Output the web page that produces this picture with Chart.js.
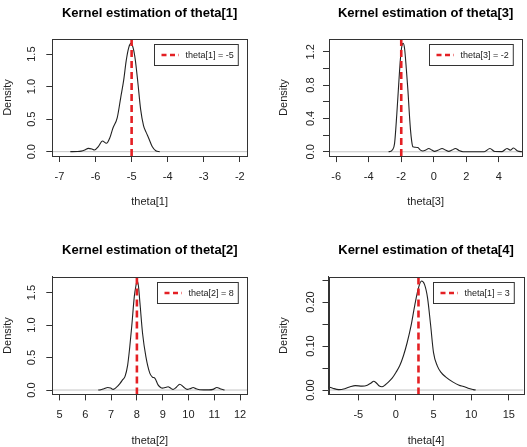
<!DOCTYPE html>
<html>
<head>
<meta charset="utf-8">
<script src="https://cdn.jsdelivr.net/npm/chart.js@4/dist/chart.umd.min.js"></script>
<style>
html, body { margin: 0; padding: 0; background: #fff; width: 527px; height: 447px; overflow: hidden; }
canvas { position: absolute; }
</style>
</head>
<body>
<canvas id="theta1" width="264" height="224" style="left:0;top:0"></canvas>
<canvas id="theta3" width="263" height="224" style="left:264px;top:0"></canvas>
<canvas id="theta2" width="264" height="224" style="left:0;top:224px"></canvas>
<canvas id="theta4" width="263" height="224" style="left:264px;top:224px"></canvas>
<script>
// density curves
const theta1X = [-6.7, -6.5, -6.4, -6.3, -6.2, -6.1, -6.03, -5.92, -5.81, -5.7, -5.6, -5.52, -5.4, -5.3, -5.22, -5.15, -5.08, -5.02, -4.96, -4.9, -4.83, -4.75, -4.67, -4.6, -4.52, -4.43, -4.33, -4.22];
const theta1Y = [0, 0.002, 0.008, 0.025, 0.05, 0.04, 0.025, 0.08, 0.165, 0.13, 0.22, 0.36, 0.52, 0.84, 1.1, 1.4, 1.6, 1.665, 1.6, 1.42, 1.08, 0.65, 0.4, 0.3, 0.2, 0.08, 0.015, 0];

const theta3X = [-2.78, -2.65, -2.55, -2.41, -2.27, -2.14, -2.04, -1.95, -1.88, -1.79, -1.69, -1.59, -1.5, -1.43, -1.36, -1.29, -1.15, -0.98, -0.82, -0.67, -0.5, -0.31, -0.12, 0.04, 0.28, 0.51, 0.72, 0.92, 1.12, 1.33, 1.55, 1.8, 3.1, 3.45, 3.75, 4.2, 4.5, 4.7, 4.9, 5.15, 5.44];
const theta3Y = [0, 0.005, 0.02, 0.1, 0.46, 0.86, 1.14, 1.28, 1.3, 1.23, 1.0, 0.74, 0.45, 0.26, 0.13, 0.06, 0.055, 0.05, 0.02, 0.01, 0.02, 0.04, 0.02, 0.005, 0.02, 0.04, 0.02, 0.005, 0.02, 0.04, 0.015, 0.001, 0.001, 0.04, 0.003, 0.002, 0.04, 0.02, 0.045, 0.01, 0];

const theta2X = [6.5, 6.6, 6.72, 6.87, 6.98, 7.08, 7.2, 7.34, 7.45, 7.54, 7.64, 7.72, 7.8, 7.9, 7.96, 8.01, 8.06, 8.12, 8.22, 8.35, 8.5, 8.6, 8.7, 8.82, 8.92, 8.99, 9.1, 9.21, 9.3, 9.4, 9.52, 9.66, 9.8, 9.95, 10.06, 10.18, 10.3, 10.44, 10.8, 10.95, 11.1, 11.25, 11.4];
const theta2Y = [0, 0.005, 0.02, 0.04, 0.03, 0.01, 0.04, 0.1, 0.16, 0.21, 0.38, 0.65, 0.98, 1.44, 1.6, 1.676, 1.6, 1.33, 0.87, 0.51, 0.26, 0.2, 0.18, 0.08, 0.04, 0.03, 0.04, 0.05, 0.03, 0.01, 0.04, 0.09, 0.05, 0.01, 0.02, 0.04, 0.02, 0.005, 0.002, 0.01, 0.04, 0.015, 0];

const theta4X = [-9.0, -8.4, -7.6, -6.8, -6.0, -5.4, -4.5, -3.8, -3.3, -2.96, -2.6, -2.2, -1.86, -1.4, -1.0, -0.5, 0, 0.5, 1.0, 1.5, 2.0, 2.5, 3.0, 3.4, 3.8, 4.2, 4.6, 5.0, 5.5, 6.0, 6.6, 7.6, 8.4, 9.0, 9.6, 10.3, 10.6];
const theta4Y = [0.0075, 0.004, 0.001, 0.003, 0.008, 0.01, 0.009, 0.011, 0.016, 0.02, 0.016, 0.009, 0.0075, 0.012, 0.018, 0.027, 0.04, 0.055, 0.078, 0.108, 0.145, 0.192, 0.232, 0.2476, 0.24, 0.21, 0.15, 0.085, 0.055, 0.04, 0.03, 0.018, 0.011, 0.008, 0.004, 0.001, 0];

// true values (dashed red lines) and legend labels
const trueValues = [-5, -2, 8, 3];
const legendLabels = ['theta[1] = -5', 'theta[3] = -2', 'theta[2] = 8', 'theta[1] = 3'];

// tick positions and labels
const xTicks1 = [-7, -6, -5, -4, -3, -2];
const xLabels1 = ['-7', '-6', '-5', '-4', '-3', '-2'];
const yTicks1 = [0, 0.5, 1, 1.5];
const yLabels1 = ['0.0', '0.5', '1.0', '1.5'];

const xTicks3 = [-6, -4, -2, 0, 2, 4];
const xLabels3 = ['-6', '-4', '-2', '0', '2', '4'];
const yTicks3 = [0, 0.2, 0.4, 0.6, 0.8, 1.0, 1.2];
const yLabels3 = ['0.0', '', '0.4', '', '0.8', '', '1.2'];

const xTicks2 = [5, 6, 7, 8, 9, 10, 11, 12];
const xLabels2 = ['5', '6', '7', '8', '9', '10', '11', '12'];
const yTicks2 = [0, 0.5, 1, 1.5];
const yLabels2 = ['0.0', '0.5', '1.0', '1.5'];

const xTicks4 = [-5, 0, 5, 10, 15];
const xLabels4 = ['-5', '0', '5', '10', '15'];
const yTicks4 = [0, 0.05, 0.1, 0.15, 0.2, 0.25];
const yLabels4 = ['0.00', '', '0.10', '', '0.20', ''];

const FONT = '"Liberation Sans", Arial, Helvetica, sans-serif';
const RED = 'rgb(228, 32, 36)';
const INK = '#222';

const boxPlugin = {
    id: 'boxPlugin',
    afterDraw(chart) {
        const a = chart.chartArea;
        const ctx = chart.ctx;
        ctx.save();
        ctx.strokeStyle = '#333';
        ctx.lineWidth = 1;
        ctx.strokeRect(Math.round(a.left) + 0.5, Math.round(a.top) + 0.5,
            Math.round(a.right) - Math.round(a.left), Math.round(a.bottom) - Math.round(a.top));
        ctx.restore();
    }
};

const legendPlugin = {
    id: 'legendPlugin',
    afterDatasetsDraw(chart, args, opts) {
        const a = chart.chartArea;
        const ctx = chart.ctx;
        ctx.save();
        ctx.font = '9px ' + FONT;
        const tw = ctx.measureText(opts.text).width;
        const w = 31 + tw + 4.5;
        const h = 21;
        const x = Math.round(a.right - 9.3 - w) + 0.5;
        const y = Math.round(a.top + 5.3) + 0.5;
        ctx.fillStyle = '#fff';
        ctx.fillRect(x, y, w, h);
        ctx.strokeStyle = '#333';
        ctx.lineWidth = 1;
        ctx.strokeRect(x, y, w, h);
        ctx.strokeStyle = RED;
        ctx.lineWidth = 2.5;
        ctx.setLineDash([5, 3.5]);
        ctx.beginPath();
        ctx.moveTo(x + 7, y + h / 2);
        ctx.lineTo(x + 24.5, y + h / 2);
        ctx.stroke();
        ctx.setLineDash([]);
        ctx.fillStyle = INK;
        ctx.textBaseline = 'middle';
        ctx.fillText(opts.text, x + 31, y + h / 2 + 0.5);
        ctx.restore();
    }
};

function makePanel(id, p) {
    const canvas = document.getElementById(id);
    const cw = canvas.width, ch = canvas.height;

    // measure widest y label so rotated labels sit a fixed distance from the box
    const mctx = canvas.getContext('2d');
    mctx.font = '11px ' + FONT;
    let widest = 0;
    p.yLabels.forEach(function(l) { widest = Math.max(widest, mctx.measureText(l).width); });

    const xH = p.xTitleY - p.area.b + 6.6;
    const titleLH = 13 * 1.2;

    const points = p.xs.map(function(x, i) { return { x: x, y: p.ys[i] }; });

    new Chart(canvas, {
        type: 'line',
        data: {
            datasets: [
                {
                    data: [{ x: p.trueValue, y: p.yMin }, { x: p.trueValue, y: p.yMax }],
                    borderColor: RED, borderWidth: 2.6, borderDash: [7, 4],
                    pointRadius: 0, order: 0
                },
                {
                    data: points,
                    borderColor: INK, borderWidth: 1.1,
                    pointRadius: 0, cubicInterpolationMode: 'monotone', order: 1
                },
                {
                    data: [{ x: p.xMin, y: 0 }, { x: p.xMax, y: 0 }],
                    borderColor: '#c4c4c4', borderWidth: 1,
                    pointRadius: 0, order: 2
                }
            ]
        },
        options: {
            responsive: false,
            animation: false,
            events: [],
            layout: {
                padding: { left: 0, top: 0, right: cw - p.area.r, bottom: ch - p.area.b - xH }
            },
            plugins: {
                legend: { display: false },
                tooltip: { enabled: false },
                title: {
                    display: true,
                    text: p.title,
                    fullSize: false,
                    color: '#000',
                    font: { family: FONT, size: 13, weight: 'bold' },
                    padding: { top: p.titleY - titleLH / 2, bottom: p.area.t - p.titleY - titleLH / 2 }
                },
                legendPlugin: { text: p.legend }
            },
            scales: {
                x: {
                    type: 'linear',
                    min: p.xMin, max: p.xMax,
                    afterBuildTicks: function(scale) {
                        scale.ticks = p.xTicks.map(function(v) { return { value: v }; });
                    },
                    afterFit: function(scale) { scale.height = xH; },
                    ticks: {
                        autoSkip: false, maxRotation: 0, padding: 7.9, color: INK,
                        font: { family: FONT, size: 11 },
                        callback: function(v, i) { return p.xLabels[i]; }
                    },
                    grid: { drawOnChartArea: false, drawTicks: true, tickLength: 6, color: '#333' },
                    border: { display: true, color: '#333' },
                    title: {
                        display: true, text: p.xTitle, color: INK,
                        font: { family: FONT, size: 11 }, padding: 0
                    }
                },
                y: {
                    type: 'linear',
                    min: p.yMin, max: p.yMax,
                    afterBuildTicks: function(scale) {
                        scale.ticks = p.yTicks.map(function(v) { return { value: v }; });
                    },
                    afterFit: function(scale) { scale.width = p.area.l; },
                    ticks: {
                        autoSkip: false, minRotation: 90, maxRotation: 90, crossAlign: 'center',
                        padding: p.yLabOff - 6 - widest / 2, color: INK,
                        font: { family: FONT, size: 11 },
                        callback: function(v, i) { return p.yLabels[i]; }
                    },
                    grid: { drawOnChartArea: false, drawTicks: true, tickLength: 6, color: '#333' },
                    border: { display: true, color: '#333' },
                    title: {
                        display: true, text: 'Density', color: INK,
                        font: { family: FONT, size: 11 },
                        padding: { top: p.densX - 6.6, bottom: 0 }
                    }
                }
            }
        },
        plugins: [boxPlugin, legendPlugin]
    });
}

makePanel('theta1', {
    title: 'Kernel estimation of theta[1]', xTitle: 'theta[1]', legend: legendLabels[0],
    xs: theta1X, ys: theta1Y, trueValue: trueValues[0],
    xMin: -7.2, xMax: -1.8, yMin: -0.0667, yMax: 1.733,
    xTicks: xTicks1, xLabels: xLabels1, yTicks: yTicks1, yLabels: yLabels1,
    area: { l: 52.3, t: 39, r: 247, b: 156 }, titleY: 13.3, densX: 8.3, xTitleY: 202.3, yLabOff: 20
});

makePanel('theta3', {
    title: 'Kernel estimation of theta[3]', xTitle: 'theta[3]', legend: legendLabels[1],
    xs: theta3X, ys: theta3Y, trueValue: trueValues[1],
    xMin: -6.44, xMax: 5.44, yMin: -0.052, yMax: 1.353,
    xTicks: xTicks3, xLabels: xLabels3, yTicks: yTicks3, yLabels: yLabels3,
    area: { l: 65, t: 39, r: 258.3, b: 156.1 }, titleY: 13.3, densX: 20, xTitleY: 202.3, yLabOff: 18.3
});

makePanel('theta2', {
    title: 'Kernel estimation of theta[2]', xTitle: 'theta[2]', legend: legendLabels[2],
    xs: theta2X, ys: theta2Y, trueValue: trueValues[2],
    xMin: 4.72, xMax: 12.28, yMin: -0.067, yMax: 1.743,
    xTicks: xTicks2, xLabels: xLabels2, yTicks: yTicks2, yLabels: yLabels2,
    area: { l: 52.3, t: 52.7, r: 247.3, b: 170.4 }, titleY: 26.7, densX: 8.3, xTitleY: 216.7, yLabOff: 20.3
});

makePanel('theta4', {
    title: 'Kernel estimation of theta[4]', xTitle: 'theta[4]', legend: legendLabels[3],
    xs: theta4X, ys: theta4Y, trueValue: trueValues[3],
    xMin: -8.96, xMax: 16.96, yMin: -0.0099, yMax: 0.2575,
    xTicks: xTicks4, xLabels: xLabels4, yTicks: yTicks4, yLabels: yLabels4,
    area: { l: 64.5, t: 52.7, r: 259.5, b: 170.4 }, titleY: 26.7, densX: 20, xTitleY: 216.7, yLabOff: 17.8
});
</script>
</body>
</html>
